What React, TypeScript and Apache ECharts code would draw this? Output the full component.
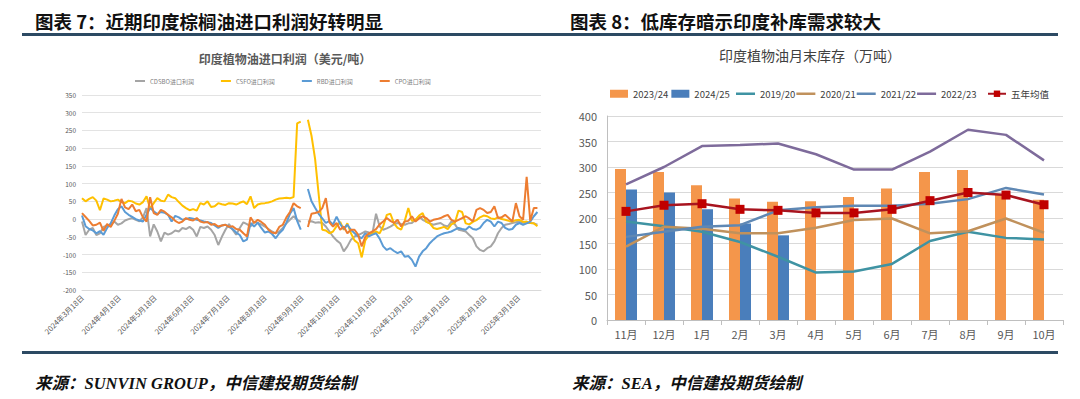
import React, { useEffect, useRef } from 'react';
import * as echarts from 'echarts';

// ---------- Left chart: India veg-oil import margins (USD/t), one point every 3 days from 2024-03-18 ----------
const startYear = 2024;
const startMonth = 2; // March (0-based)
const startDay = 18;
const stepDays = 3;
const spanDays = 384;

const cdsbo = [
  -7, -45, -30, -25, -45, -40, -22, -18, -15, -7,
  -16, -12, -4, 0, 3, -2, -6, 5, 31, -49,
  -15, -35, -63, -38, -44, -40, -32, -35, -25, -28,
  -22, -30, -49, -22, -25, -21, -30, -45, -73, -50,
  -30, -14, -30, -44, -25, -9, -14, -21, -7, -11,
  -15, -21, -28, -35, -40, -35, -25, -12, -2, 8,
  -2, -8, null, -7, -6, -10, -9, -11, -21, -35,
  -49, -60, -68, -91, -77, -58, -49, -45, -40, -35,
  -38, -40, 15, -21, -30, -26, -21, -15, -11, -14,
  -16, -12, -11, -2, 8, -2, -7, -12, -16, -13,
  -11, -18, -21, -7, -15, -30, -32, -35, -45, -54,
  -77, -87, -91, -82, -77, -63, -40, -25, -16, -14,
  -11, -9, -7, -10, -11, -11, -12, -16,
];
const csfo = [
  59, 50, 57, 62, 52, 25, 58, 55, 50, 52,
  55, 48, 45, 52, 50, 44, 41, 48, 64, 30,
  45, 59, 52, 50, 69, 62, 59, 48, 38, 31,
  25, 28, 24, 45, 41, 50, 34, 36, 45, 42,
  40, 45, 44, 41, 46, 50, 42, 64, 31, 41,
  44, 45, 47, 50, 55, 58, 59, 60, 59, 62,
  270, 275, null, 280, 235, 170, 70, -30, -32, -40,
  -35, -20, -8, -30, -12, -40, -60, -68, -108, -60,
  -45, -40, -35, -40, -20, 12, 15, -12, -25, -30,
  -5, 31, -5, -2, 10, 17, -8, -12, -25, -28,
  -25, -22, -28, -15, -10, 24, 20, -12, -15, -8,
  -3, 5, 10, 8, 2, 0, 5, 0, -2, -5,
  -7, -3, -2, -8, -7, -11, -12, -20,
];
const rbd = [
  10, -20, -28, -32, -40, -34, -44, -25, -12, 10,
  28, 36, 20, 12, 6, 0, -4, -7, 12, 31,
  22, 14, 20, 18, 12, -7, 9, 5, -2, 0,
  3, 1, -2, -4, -7, -9, -11, -18, -25, -18,
  -16, -22, -28, -38, -45, -63, -58, -11, -21, -10,
  -25, -38, -35, -42, -54, -40, -30, -10, 15, 31,
  -5, -30, null, 85, 50, 32, 15, 2, -11, -5,
  -16, 7, -14, -28, -16, -30, -40, -49, -54, -40,
  -49, -44, -40, -55, -77, -87, -82, -90, -96, -91,
  -106, -104, -115, -134, -106, -91, -82, -68, -58, -49,
  -44, -40, -38, -35, -30, -25, -28, -30, -21, -28,
  -30, -25, -11, -2, -7, -21, -7, -11, -25, -30,
  -28, -16, -11, -16, -12, -7, 8, 20,
];
const cpo = [
  17, 6, -5, -18, -16, -10, -33, -14, -22, -5,
  15, 57, 33, 28, 41, 22, 26, 5, -7, 62,
  17, 12, 26, 21, 12, 5, -5, -11, -7, 3,
  -2, -4, 3, -7, -10, -8, -16, -14, -21, -18,
  -16, -22, -20, -28, -30, -40, -49, 5, -11, -2,
  -8, -16, -30, -38, -40, -22, -16, 5, 20, 45,
  36, 31, null, -22, 15, 17, 20, 31, 59, -9,
  -21, -11, -30, -21, -40, -30, -30, -44, -77, -50,
  -40, -35, -28, -15, -7, 3, -5, -11, -2, -21,
  -7, -5, 8, -7, 2, 8, 3, -7, -2, 0,
  3, 8, 12, -2, -7, -2, 3, 8, 2, -7,
  26, 31, 26, 17, 20, 36, 3, 5, 12, 3,
  -7, 45, 8, -2, 119, -5, 31, 31,
];
const leftNames = ['CDSBO进口利润', 'CSFO进口利润', 'RBD进口利润', 'CPO进口利润'];
const leftColors = ['#A5A5A5', '#FFC000', '#5B9BD5', '#ED7D31'];
const leftYTicks = { min: -200, max: 350, interval: 50 };
const labelMonthsCount = 13; // a label on the 18th of every month

// ---------- Right chart: India veg-oil month-end stocks (10k t) ----------
const months = ['11月', '12月', '1月', '2月', '3月', '4月', '5月', '6月', '7月', '8月', '9月', '10月'];
const stock2324 = [296, 290, 264, 238, 232, 233, 241, 258, 290, 294, 247, 236];
const stock2425 = [256, 250, 217, 189, 166, null, null, null, null, null, null, null];
const stock1920 = [193, 184, 173, 153, 124, 93, 95, 110, 155, 173, 161, 158];
const stock2021 = [144, 183, 179, 170, 170, 181, 196, 199, 170, 174, 199, 171];
const stock2122 = [163, 173, 183, 186, 215, 221, 224, 224, 228, 237, 259, 246];
const stock2223 = [266, 300, 341, 343, 346, 325, 295, 295, 330, 373, 363, 313];
const avg5 = [213, 225, 228, 217, 215, 210, 210, 217, 234, 250, 245, 226];

const CJK = '"Noto Sans CJK SC", "Noto Sans", sans-serif';
const DAY = 86400000;

function dayOffsetToDate(off: number) {
  return new Date(Date.UTC(startYear, startMonth, startDay) + Math.round(off) * DAY);
}

export default function App() {
  const ref = useRef<HTMLDivElement>(null);

  useEffect(() => {
    document.body.style.margin = '0';
    if (!ref.current) return;
    const chart = echarts.init(ref.current, undefined, { renderer: 'svg' });

    const t0 = Date.UTC(startYear, startMonth, startDay);
    const toSeries = (arr: (number | null)[]) => arr.map((v, i) => [i * stepDays, v]);
    const labelOffsets: number[] = [];
    for (let m = 0; m < labelMonthsCount; m++) {
      labelOffsets.push(Math.round((Date.UTC(startYear, startMonth + m, startDay) - t0) / DAY));
    }

    const leftSeries = [cdsbo, csfo, rbd, cpo].map((arr, k) => ({
      name: leftNames[k],
      type: 'line',
      xAxisIndex: 0,
      yAxisIndex: 0,
      data: toSeries(arr),
      symbol: 'none',
      color: leftColors[k],
      lineStyle: { width: 2, color: leftColors[k] },
      connectNulls: false,
    }));

    const lineSeries = (name: string, data: number[], color: string, extra: any = {}) => ({
      name,
      type: 'line',
      xAxisIndex: 1,
      yAxisIndex: 1,
      data,
      symbol: 'none',
      color,
      lineStyle: { width: 2.5, color },
      ...extra,
    });

    const legendText = { fontSize: 9.5, color: '#404040', fontFamily: CJK };

    const option: any = {
      animation: false,
      backgroundColor: '#ffffff',
      textStyle: { fontFamily: CJK },
      graphic: {
        elements: [
          {
            type: 'text', x: 35, y: 21,
            style: { text: '图表 7：近期印度棕榈油进口利润好转明显', font: `bold 18.5px ${CJK}`, fill: '#111', align: 'left', verticalAlign: 'middle' },
          },
          {
            type: 'text', x: 570, y: 21,
            style: { text: '图表 8：低库存暗示印度补库需求较大', font: `bold 18.5px ${CJK}`, fill: '#111', align: 'left', verticalAlign: 'middle' },
          },
          { type: 'rect', shape: { x: 22, y: 33, width: 1036, height: 3 }, style: { fill: '#2C4A63' } },
          { type: 'rect', shape: { x: 22, y: 351, width: 1036, height: 3 }, style: { fill: '#2C4A63' } },
          {
            type: 'text', x: 285, y: 58,
            style: { text: '印度植物油进口利润（美元/吨）', font: `bold 12px ${CJK}`, fill: '#595959', align: 'center', verticalAlign: 'middle' },
          },
          {
            type: 'text', x: 810, y: 55,
            style: { text: '印度植物油月末库存（万吨）', font: `14px ${CJK}`, fill: '#404040', align: 'center', verticalAlign: 'middle' },
          },
          {
            type: 'text', x: 35, y: 383,
            style: { text: '来源：SUNVIN GROUP，中信建投期货绘制', font: `italic bold 16.5px "Liberation Serif", ${CJK}`, fill: '#111', align: 'left', verticalAlign: 'middle' },
          },
          {
            type: 'text', x: 572, y: 383,
            style: { text: '来源：SEA，中信建投期货绘制', font: `italic bold 16.5px "Liberation Serif", ${CJK}`, fill: '#111', align: 'left', verticalAlign: 'middle' },
          },
        ],
      },
      legend: [
        {
          left: 130, top: 73, itemWidth: 10, itemHeight: 2, itemGap: 27, icon: 'rect',
          textStyle: { fontSize: 6, color: '#7f7f7f', fontFamily: CJK },
          data: leftNames,
        },
        {
          left: 605, top: 84, itemWidth: 18, itemHeight: 8, itemGap: 3, icon: 'rect',
          textStyle: legendText,
          data: ['2023/24', '2024/25'],
        },
        {
          left: 731, top: 84, itemWidth: 19, itemHeight: 2.5, itemGap: 1, icon: 'rect',
          textStyle: legendText,
          data: ['2019/20', '2020/21', '2021/22', '2022/23'],
        },
        {
          left: 982, top: 84, itemWidth: 18, itemHeight: 8, itemGap: 0,
          textStyle: legendText,
          data: ['五年均值'],
        },
      ],
      grid: [
        { left: 82, top: 95, width: 459, height: 195 },
        { left: 607, top: 116, width: 456, height: 204 },
      ],
      xAxis: [
        {
          type: 'value', gridIndex: 0, min: 0, max: spanDays,
          splitLine: { show: false },
          axisTick: { show: false },
          axisLine: { show: true, onZero: false, lineStyle: { color: '#d9d9d9' } },
          axisLabel: {
            customValues: labelOffsets,
            rotate: 45,
            fontSize: 7.5,
            color: '#595959',
            margin: 6,
            formatter: (v: number) => {
              const d = dayOffsetToDate(v);
              return `${d.getUTCFullYear()}年${d.getUTCMonth() + 1}月${d.getUTCDate()}日`;
            },
          },
        },
        {
          type: 'category', gridIndex: 1, data: months,
          axisTick: { show: true, length: 5, lineStyle: { color: '#bfbfbf' } },
          axisLine: { lineStyle: { color: '#bfbfbf' } },
          axisLabel: { fontSize: 11, color: '#595959', margin: 8 },
        },
      ],
      yAxis: [
        {
          type: 'value', gridIndex: 0, ...leftYTicks,
          axisLabel: { fontSize: 6.5, color: '#595959', margin: 6 },
          splitLine: { lineStyle: { color: '#e3e3e3' } },
          axisLine: { show: false }, axisTick: { show: false },
        },
        {
          type: 'value', gridIndex: 1, min: 0, max: 400, interval: 50,
          axisLabel: { fontSize: 11, color: '#595959', margin: 10 },
          splitLine: { lineStyle: { color: '#d9d9d9' } },
          axisLine: { show: true, lineStyle: { color: '#bfbfbf' } },
          axisTick: { show: false },
        },
      ],
      series: [
        ...leftSeries,
        {
          name: '2023/24', type: 'bar', xAxisIndex: 1, yAxisIndex: 1, data: stock2324,
          barWidth: 11, barGap: '0%', color: '#F4964B', itemStyle: { color: '#F4964B' },
        },
        {
          name: '2024/25', type: 'bar', xAxisIndex: 1, yAxisIndex: 1, data: stock2425,
          barWidth: 11, barGap: '0%', color: '#4A7EBB', itemStyle: { color: '#4A7EBB' },
        },
        lineSeries('2019/20', stock1920, '#3F93A3'),
        lineSeries('2020/21', stock2021, '#C0915C'),
        lineSeries('2021/22', stock2122, '#5F88B4'),
        lineSeries('2022/23', stock2223, '#7E6B9B'),
        lineSeries('五年均值', avg5, '#B01020', {
          symbol: 'rect', symbolSize: 9,
          itemStyle: { color: '#C00000' },
          lineStyle: { width: 2.5, color: '#A8141F' },
          z: 5,
        }),
      ],
    };

    chart.setOption(option);
    return () => chart.dispose();
  }, []);

  return <div ref={ref} style={{ width: 1080, height: 399 }} />;
}
